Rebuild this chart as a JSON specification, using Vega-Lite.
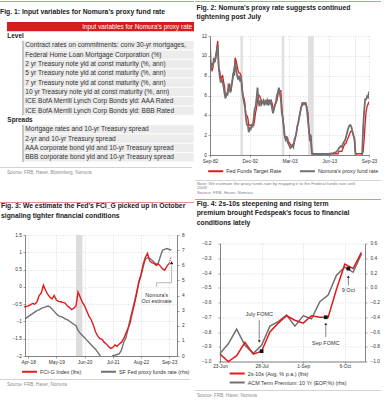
{
"$schema": "https://vega.github.io/schema/vega-lite/v6.json",
"padding": {"left": 0, "top": 1, "right": 0, "bottom": 0},
"background": "white",
"config": {
  "font": "Liberation Sans",
  "view": {"stroke": null},
  "axis": {"labelFontSize": 4.8, "labelColor": "#333333", "domainColor": "#666666", "domainWidth": 0.8, "tickColor": "#666666", "tickSize": 2, "tickWidth": 0.6, "labelPadding": 1.5, "gridColor": "#c8c8c8", "gridDash": [1, 1.5], "gridWidth": 0.6, "labelFlush": false, "labelOverlap": false},
  "title": {"fontSize": 6.8, "fontWeight": "bold", "anchor": "start", "frame": "bounds", "color": "#222222", "lineHeight": 8.6},
  "legend": {"labelFontSize": 5.4, "labelColor": "#333333", "symbolType": "M-3,0H3", "symbolSize": 25, "symbolStrokeWidth": 2, "labelOffset": 7, "padding": 0, "orient": "none"}
},
"datasets": {
  "fig1": [
    {"row": 1, "kind": "header", "label": "Input variables for Nomura's proxy rate"},
    {"row": 2, "kind": "section", "label": "Level"},
    {"row": 3, "kind": "item", "label": "Contract rates on commitments: conv 30-yr mortgages,"},
    {"row": 4, "kind": "item", "label": "Federal Home Loan Mortgage Corporation (%)"},
    {"row": 5, "kind": "item", "label": "2 yr Treasury note yld at const maturity (%, ann)"},
    {"row": 6, "kind": "item", "label": "5 yr Treasury note yld at const maturity (%, ann)"},
    {"row": 7, "kind": "item", "label": "7 yr Treasury note yld at const maturity (%, ann)"},
    {"row": 8, "kind": "item", "label": "10 yr Treasury note yld at const maturity (%, ann)"},
    {"row": 9, "kind": "item", "label": "ICE BofA Merrill Lynch Corp Bonds yld: AAA Rated"},
    {"row": 10, "kind": "item", "label": "ICE BofA Merrill Lynch Corp Bonds yld: BBB Rated"},
    {"row": 11, "kind": "section", "label": "Spreads"},
    {"row": 12, "kind": "item", "label": "Mortgage rates and 10-yr Treasury spread"},
    {"row": 13, "kind": "item", "label": "2-yr and 10-yr Treasury spread"},
    {"row": 14, "kind": "item", "label": "AAA corporate bond yld and 10-yr Treasury spread"},
    {"row": 15, "kind": "item", "label": "BBB corporate bond yld and 10-yr Treasury spread"}
  ],
  "rec2": [
    {"s": "1990-07-01", "e": "1991-03-01"},
    {"s": "2001-03-01", "e": "2001-11-01"},
    {"s": "2007-12-01", "e": "2009-06-01"},
    {"s": "2020-02-01", "e": "2020-04-01"}
  ],
  "fig2": [
    {"d": "1982-09-01", "ff": 10.0, "px": 11.3},
    {"d": "1982-12-01", "ff": 8.6, "px": 8.5},
    {"d": "1983-03-01", "ff": 8.5, "px": 9.3},
    {"d": "1983-06-01", "ff": 8.8, "px": 9.0},
    {"d": "1983-09-01", "ff": 9.4, "px": 9.8},
    {"d": "1983-12-01", "ff": 9.4, "px": 9.4},
    {"d": "1984-03-01", "ff": 9.8, "px": 10.0},
    {"d": "1984-06-01", "ff": 10.8, "px": 10.5},
    {"d": "1984-09-01", "ff": 11.5, "px": 11.1},
    {"d": "1984-12-01", "ff": 8.5, "px": 8.9},
    {"d": "1985-03-01", "ff": 8.5, "px": 8.0},
    {"d": "1985-06-01", "ff": 7.6, "px": 7.3},
    {"d": "1985-09-01", "ff": 7.9, "px": 7.7},
    {"d": "1985-12-01", "ff": 8.0, "px": 7.3},
    {"d": "1986-03-01", "ff": 7.4, "px": 6.9},
    {"d": "1986-06-01", "ff": 6.9, "px": 6.2},
    {"d": "1986-09-01", "ff": 5.9, "px": 5.7},
    {"d": "1986-12-01", "ff": 6.0, "px": 6.3},
    {"d": "1987-03-01", "ff": 6.1, "px": 6.0},
    {"d": "1987-06-01", "ff": 6.7, "px": 7.0},
    {"d": "1987-09-01", "ff": 7.2, "px": 6.8},
    {"d": "1987-12-01", "ff": 6.8, "px": 6.3},
    {"d": "1988-03-01", "ff": 6.6, "px": 7.0},
    {"d": "1988-06-01", "ff": 7.5, "px": 7.4},
    {"d": "1988-09-01", "ff": 8.1, "px": 8.3},
    {"d": "1988-12-01", "ff": 8.7, "px": 8.0},
    {"d": "1989-03-01", "ff": 9.8, "px": 9.5},
    {"d": "1989-06-01", "ff": 9.5, "px": 8.6},
    {"d": "1989-09-01", "ff": 9.0, "px": 8.0},
    {"d": "1989-12-01", "ff": 8.5, "px": 7.6},
    {"d": "1990-03-01", "ff": 8.25, "px": 8.0},
    {"d": "1990-06-01", "ff": 8.25, "px": 7.4},
    {"d": "1990-09-01", "ff": 8.0, "px": 7.9},
    {"d": "1990-12-01", "ff": 7.0, "px": 6.6},
    {"d": "1991-03-01", "ff": 6.0, "px": 5.9},
    {"d": "1991-06-01", "ff": 5.75, "px": 5.3},
    {"d": "1991-09-01", "ff": 5.25, "px": 4.9},
    {"d": "1991-12-01", "ff": 4.0, "px": 3.8},
    {"d": "1992-03-01", "ff": 4.0, "px": 3.1},
    {"d": "1992-06-01", "ff": 3.75, "px": 3.0},
    {"d": "1992-09-01", "ff": 3.0, "px": 2.3},
    {"d": "1992-12-01", "ff": 3.0, "px": 2.7},
    {"d": "1993-03-01", "ff": 3.0, "px": 2.6},
    {"d": "1993-06-01", "ff": 3.0, "px": 3.0},
    {"d": "1993-09-01", "ff": 3.0, "px": 2.9},
    {"d": "1993-12-01", "ff": 3.0, "px": 3.6},
    {"d": "1994-03-01", "ff": 3.5, "px": 4.6},
    {"d": "1994-06-01", "ff": 4.25, "px": 4.9},
    {"d": "1994-09-01", "ff": 4.75, "px": 5.7},
    {"d": "1994-12-01", "ff": 5.5, "px": 6.8},
    {"d": "1995-03-01", "ff": 6.0, "px": 5.4},
    {"d": "1995-06-01", "ff": 6.0, "px": 4.9},
    {"d": "1995-09-01", "ff": 5.75, "px": 5.5},
    {"d": "1995-12-01", "ff": 5.5, "px": 5.1},
    {"d": "1996-03-01", "ff": 5.25, "px": 5.3},
    {"d": "1996-06-01", "ff": 5.25, "px": 5.5},
    {"d": "1996-09-01", "ff": 5.25, "px": 5.0},
    {"d": "1996-12-01", "ff": 5.25, "px": 5.4},
    {"d": "1997-03-01", "ff": 5.5, "px": 5.2},
    {"d": "1997-06-01", "ff": 5.5, "px": 5.5},
    {"d": "1997-09-01", "ff": 5.5, "px": 5.0},
    {"d": "1997-12-01", "ff": 5.5, "px": 5.4},
    {"d": "1998-03-01", "ff": 5.5, "px": 5.2},
    {"d": "1998-06-01", "ff": 5.5, "px": 5.4},
    {"d": "1998-09-01", "ff": 5.25, "px": 4.7},
    {"d": "1998-12-01", "ff": 4.75, "px": 4.2},
    {"d": "1999-03-01", "ff": 4.75, "px": 4.6},
    {"d": "1999-06-01", "ff": 5.0, "px": 5.1},
    {"d": "1999-09-01", "ff": 5.25, "px": 5.3},
    {"d": "1999-12-01", "ff": 5.5, "px": 6.0},
    {"d": "2000-03-01", "ff": 6.0, "px": 6.3},
    {"d": "2000-06-01", "ff": 6.5, "px": 6.8},
    {"d": "2000-09-01", "ff": 6.5, "px": 6.2},
    {"d": "2000-12-01", "ff": 6.5, "px": 5.7},
    {"d": "2001-03-01", "ff": 5.0, "px": 4.3},
    {"d": "2001-06-01", "ff": 3.75, "px": 3.8},
    {"d": "2001-09-01", "ff": 3.0, "px": 2.8},
    {"d": "2001-12-01", "ff": 1.75, "px": 2.0},
    {"d": "2002-03-01", "ff": 1.75, "px": 1.6},
    {"d": "2002-06-01", "ff": 1.75, "px": 1.9},
    {"d": "2002-09-01", "ff": 1.75, "px": 1.3},
    {"d": "2002-12-01", "ff": 1.25, "px": 1.1},
    {"d": "2003-03-01", "ff": 1.25, "px": 0.9},
    {"d": "2003-06-01", "ff": 1.0, "px": 0.7},
    {"d": "2003-09-01", "ff": 1.0, "px": 0.8},
    {"d": "2003-12-01", "ff": 1.0, "px": 1.0},
    {"d": "2004-03-01", "ff": 1.0, "px": 0.8},
    {"d": "2004-06-01", "ff": 1.25, "px": 1.5},
    {"d": "2004-09-01", "ff": 1.75, "px": 1.8},
    {"d": "2004-12-01", "ff": 2.25, "px": 2.1},
    {"d": "2005-03-01", "ff": 2.75, "px": 2.9},
    {"d": "2005-06-01", "ff": 3.25, "px": 3.2},
    {"d": "2005-09-01", "ff": 3.75, "px": 3.8},
    {"d": "2005-12-01", "ff": 4.25, "px": 4.3},
    {"d": "2006-03-01", "ff": 4.75, "px": 4.8},
    {"d": "2006-06-01", "ff": 5.25, "px": 5.0},
    {"d": "2006-09-01", "ff": 5.25, "px": 5.2},
    {"d": "2006-12-01", "ff": 5.25, "px": 5.1},
    {"d": "2007-03-01", "ff": 5.25, "px": 5.2},
    {"d": "2007-06-01", "ff": 5.25, "px": 5.1},
    {"d": "2007-09-01", "ff": 4.75, "px": 4.5},
    {"d": "2007-12-01", "ff": 4.25, "px": 3.6},
    {"d": "2008-03-01", "ff": 2.25, "px": 2.6},
    {"d": "2008-06-01", "ff": 2.0, "px": 1.4},
    {"d": "2008-09-01", "ff": 2.0, "px": 1.9},
    {"d": "2008-12-01", "ff": 0.125, "px": 0.3},
    {"d": "2009-03-01", "ff": 0.125, "px": 0.1},
    {"d": "2010-03-01", "ff": 0.125, "px": 0.1},
    {"d": "2011-03-01", "ff": 0.125, "px": 0.1},
    {"d": "2012-03-01", "ff": 0.125, "px": 0.1},
    {"d": "2013-03-01", "ff": 0.125, "px": 0.1},
    {"d": "2014-03-01", "ff": 0.125, "px": 0.15},
    {"d": "2015-03-01", "ff": 0.125, "px": 0.3},
    {"d": "2015-09-01", "ff": 0.125, "px": 0.5},
    {"d": "2015-12-01", "ff": 0.375, "px": 0.7},
    {"d": "2016-03-01", "ff": 0.375, "px": 0.8},
    {"d": "2016-06-01", "ff": 0.375, "px": 0.9},
    {"d": "2016-09-01", "ff": 0.375, "px": 0.8},
    {"d": "2016-12-01", "ff": 0.625, "px": 1.1},
    {"d": "2017-03-01", "ff": 0.875, "px": 1.3},
    {"d": "2017-06-01", "ff": 1.125, "px": 1.4},
    {"d": "2017-09-01", "ff": 1.125, "px": 1.7},
    {"d": "2017-12-01", "ff": 1.375, "px": 2.1},
    {"d": "2018-03-01", "ff": 1.625, "px": 2.5},
    {"d": "2018-06-01", "ff": 1.875, "px": 2.8},
    {"d": "2018-09-01", "ff": 2.125, "px": 3.0},
    {"d": "2018-12-01", "ff": 2.375, "px": 3.0},
    {"d": "2019-03-01", "ff": 2.375, "px": 2.8},
    {"d": "2019-06-01", "ff": 2.375, "px": 2.3},
    {"d": "2019-09-01", "ff": 1.875, "px": 2.0},
    {"d": "2019-12-01", "ff": 1.625, "px": 1.6},
    {"d": "2020-03-01", "ff": 0.125, "px": 0.3},
    {"d": "2020-06-01", "ff": 0.125, "px": -0.5},
    {"d": "2021-06-01", "ff": 0.125, "px": -1.5},
    {"d": "2021-12-01", "ff": 0.125, "px": 0.2},
    {"d": "2022-03-01", "ff": 0.375, "px": 2.8},
    {"d": "2022-06-01", "ff": 1.625, "px": 4.4},
    {"d": "2022-09-01", "ff": 3.125, "px": 5.6},
    {"d": "2022-12-01", "ff": 4.375, "px": 5.6},
    {"d": "2023-03-01", "ff": 4.875, "px": 5.9},
    {"d": "2023-06-01", "ff": 5.125, "px": 5.8},
    {"d": "2023-09-01", "ff": 5.375, "px": 6.4}
  ],
  "rec3": [{"s": "2020-02-01", "e": "2020-05-01"}],
  "fig3": [
    {"d": "2018-02-01", "fci": -0.58, "sf": 2.4},
    {"d": "2018-03-01", "fci": -0.57, "sf": 2.5},
    {"d": "2018-04-01", "fci": -0.55, "sf": 2.6},
    {"d": "2018-05-01", "fci": -0.52, "sf": 2.7},
    {"d": "2018-06-01", "fci": -0.48, "sf": 2.8},
    {"d": "2018-07-01", "fci": -0.5, "sf": 2.9},
    {"d": "2018-08-01", "fci": -0.44, "sf": 3.0},
    {"d": "2018-09-01", "fci": -0.25, "sf": 3.05},
    {"d": "2018-10-01", "fci": -0.18, "sf": 3.15},
    {"d": "2018-11-01", "fci": 0.05, "sf": 3.2},
    {"d": "2018-12-01", "fci": -0.1, "sf": 3.25},
    {"d": "2019-01-01", "fci": -0.22, "sf": 3.3},
    {"d": "2019-02-01", "fci": -0.3, "sf": 3.25},
    {"d": "2019-03-01", "fci": -0.35, "sf": 3.1},
    {"d": "2019-04-01", "fci": -0.25, "sf": 2.95},
    {"d": "2019-05-01", "fci": -0.38, "sf": 2.8},
    {"d": "2019-06-01", "fci": -0.42, "sf": 2.65},
    {"d": "2019-07-01", "fci": -0.43, "sf": 2.6},
    {"d": "2019-08-01", "fci": -0.45, "sf": 2.55},
    {"d": "2019-09-01", "fci": -0.47, "sf": 2.45},
    {"d": "2019-10-01", "fci": -0.55, "sf": 2.4},
    {"d": "2019-11-01", "fci": -0.6, "sf": 2.3},
    {"d": "2019-12-01", "fci": -0.66, "sf": 2.2},
    {"d": "2020-01-01", "fci": -0.62, "sf": 2.1},
    {"d": "2020-02-01", "fci": -0.55, "sf": 2.0},
    {"d": "2020-03-01", "fci": -0.15, "sf": 1.7},
    {"d": "2020-04-01", "fci": -0.3, "sf": 1.5},
    {"d": "2020-05-01", "fci": -0.45, "sf": 1.35},
    {"d": "2020-06-01", "fci": -0.55, "sf": 1.2},
    {"d": "2020-07-01", "fci": -0.7, "sf": 1.05},
    {"d": "2020-08-01", "fci": -0.85, "sf": 0.9},
    {"d": "2020-09-01", "fci": -0.95, "sf": 0.75},
    {"d": "2020-10-01", "fci": -1.1, "sf": 0.6},
    {"d": "2020-11-01", "fci": -1.3, "sf": 0.45},
    {"d": "2020-12-01", "fci": -1.42, "sf": 0.25},
    {"d": "2021-01-01", "fci": -1.5, "sf": 0.05},
    {"d": "2021-02-01", "fci": -1.52, "sf": -0.3},
    {"d": "2021-03-01", "fci": -1.6, "sf": -0.6},
    {"d": "2021-04-01", "fci": -1.65, "sf": -0.7},
    {"d": "2021-05-01", "fci": -1.72, "sf": -0.5},
    {"d": "2021-06-01", "fci": -1.78, "sf": -0.2},
    {"d": "2021-07-01", "fci": -1.75, "sf": 0.02},
    {"d": "2021-08-01", "fci": -1.68, "sf": 0.05},
    {"d": "2021-09-01", "fci": -1.72, "sf": 0.1},
    {"d": "2021-10-01", "fci": -1.65, "sf": 0.15},
    {"d": "2021-11-01", "fci": -1.6, "sf": 0.4},
    {"d": "2021-12-01", "fci": -1.5, "sf": 0.9},
    {"d": "2022-01-01", "fci": -1.35, "sf": 1.2},
    {"d": "2022-02-01", "fci": -1.2, "sf": 1.8},
    {"d": "2022-03-01", "fci": -1.05, "sf": 2.4},
    {"d": "2022-04-01", "fci": -0.75, "sf": 3.0},
    {"d": "2022-05-01", "fci": -0.5, "sf": 3.6},
    {"d": "2022-06-01", "fci": -0.2, "sf": 4.2},
    {"d": "2022-07-01", "fci": 0.15, "sf": 4.8},
    {"d": "2022-08-01", "fci": 0.35, "sf": 5.3},
    {"d": "2022-09-01", "fci": 0.65, "sf": 5.9},
    {"d": "2022-10-01", "fci": 0.85, "sf": 6.4},
    {"d": "2022-11-01", "fci": 0.97, "sf": 6.5},
    {"d": "2022-12-01", "fci": 0.75, "sf": 6.45},
    {"d": "2023-01-01", "fci": 0.7, "sf": 6.35},
    {"d": "2023-02-01", "fci": 0.68, "sf": 6.2},
    {"d": "2023-03-01", "fci": 0.62, "sf": 6.05},
    {"d": "2023-04-01", "fci": 0.66, "sf": 6.15},
    {"d": "2023-05-01", "fci": 0.6, "sf": 6.6},
    {"d": "2023-06-01", "fci": 0.52, "sf": 7.0},
    {"d": "2023-07-01", "fci": 0.48, "sf": 7.05},
    {"d": "2023-08-01", "fci": 0.6, "sf": 7.1},
    {"d": "2023-09-01", "fci": 0.68, "sf": 7.05},
    {"d": "2023-10-01", "fci": null, "sf": 6.98}
  ],
  "est3": [{"d": "2023-09-01", "v": 0.68}, {"d": "2023-10-01", "v": 0.88}],
  "lead3": [
    {"d": "2023-10-05", "d2": "2023-10-05", "v": 0.62, "v2": 0.12},
    {"d": "2023-03-10", "d2": "2023-10-05", "v": 0.12, "v2": 0.12},
    {"d": "2023-03-10", "d2": "2023-03-10", "v": 0.12, "v2": 0.0}
  ],
  "mark3": [{"d": "2023-10-05", "v": 0.7}],
  "text3": [{"d": "2023-03-10", "v": -0.23, "t": "Nomura's\nOct estimate"}],
  "fig4": [
    {"d": "2023-06-23", "s": -0.95, "tp": -0.89},
    {"d": "2023-06-30", "s": -1.0, "tp": -0.76},
    {"d": "2023-07-07", "s": -0.96, "tp": -0.56},
    {"d": "2023-07-14", "s": -0.87, "tp": -0.78},
    {"d": "2023-07-21", "s": -0.95, "tp": -0.89},
    {"d": "2023-07-28", "s": -0.93, "tp": -0.78},
    {"d": "2023-08-04", "s": -0.8, "tp": -0.52},
    {"d": "2023-08-11", "s": -0.74, "tp": -0.46},
    {"d": "2023-08-18", "s": -0.69, "tp": -0.37},
    {"d": "2023-08-25", "s": -0.72, "tp": -0.52},
    {"d": "2023-09-01", "s": -0.74, "tp": -0.38},
    {"d": "2023-09-08", "s": -0.69, "tp": -0.42},
    {"d": "2023-09-15", "s": -0.7, "tp": -0.19},
    {"d": "2023-09-22", "s": -0.7, "tp": -0.1},
    {"d": "2023-09-29", "s": -0.51, "tp": 0.17},
    {"d": "2023-10-06", "s": -0.34, "tp": 0.28},
    {"d": "2023-10-13", "s": -0.37, "tp": 0.21},
    {"d": "2023-10-20", "s": -0.26, "tp": 0.46}
  ],
  "sq4": [{"d": "2023-07-28", "v": -0.93}, {"d": "2023-09-20", "v": -0.7}, {"d": "2023-10-09", "v": -0.37}],
  "arrow4": [{"d": "2023-07-26", "v": -0.72, "v2": -0.86}, {"d": "2023-09-20", "v": -0.835, "v2": -0.75}, {"d": "2023-10-09", "v": -0.485, "v2": -0.43}],
  "down4": [{"d": "2023-07-26", "v": -0.865}],
  "up4": [{"d": "2023-09-20", "v": -0.745}, {"d": "2023-10-09", "v": -0.425}],
  "text4": [{"d": "2023-07-26", "v": -0.68, "t": "July FOMC"}, {"d": "2023-09-20", "v": -0.873, "t": "Sep FOMC"}, {"d": "2023-10-09", "v": -0.517, "t": "9 Oct"}]
},
"align": "none",
"spacing": 0,
"resolve": {"scale": {"color": "independent"}, "legend": {"color": "independent"}},
"concat": [
  {
    "columns": 1, "align": "none", "spacing": 27,
    "resolve": {"scale": {"color": "independent"}, "legend": {"color": "independent"}},
    "concat": [
      {
        "columns": 1, "align": "none", "spacing": 4,
        "concat": [
          {
            "columns": 1, "align": "none", "spacing": 6,
            "concat": [
              {"width": 194, "height": 1, "data": {"values": []}, "mark": "rule", "encoding": {}, "view": {"fill": "#e58f8f", "stroke": null}},
              {
                "width": 194, "height": 140,
                "title": {"text": "Fig. 1: Input variables for Nomura's proxy fund rate", "offset": 6.5},
                "data": {"name": "fig1"},
                "encoding": {"y": {"field": "row", "type": "ordinal", "axis": null, "scale": {"paddingInner": 0, "paddingOuter": 0}}},
                "layer": [
                  {"transform": [{"filter": "datum.kind == 'header'"}], "mark": {"type": "rect", "color": "#d51d1d"}, "encoding": {"x": {"datum": 3.6, "type": "quantitative", "scale": {"domain": [0, 100], "nice": false, "zero": false}, "axis": null}, "x2": {"datum": 100}}},
                  {"transform": [{"filter": "datum.kind == 'item'"}], "mark": {"type": "rect", "color": "#ececec", "stroke": "#ffffff", "strokeWidth": 0.8}, "encoding": {"x": {"datum": 12, "type": "quantitative"}, "x2": {"datum": 100}}},
                  {"transform": [{"filter": "datum.kind == 'item'"}], "mark": {"type": "rect", "color": "#8c8c8c"}, "encoding": {"x": {"datum": 11.6, "type": "quantitative"}, "x2": {"datum": 12.1}}},
                  {"transform": [{"filter": "datum.kind == 'header'"}], "mark": {"type": "text", "align": "right", "color": "#ffffff", "fontSize": 6.4}, "encoding": {"x": {"datum": 99, "type": "quantitative"}, "text": {"field": "label"}}},
                  {"transform": [{"filter": "datum.kind == 'section'"}], "mark": {"type": "text", "align": "left", "color": "#222222", "fontSize": 6.4, "fontWeight": "bold"}, "encoding": {"x": {"datum": 3.8, "type": "quantitative"}, "text": {"field": "label"}}},
                  {"transform": [{"filter": "datum.kind == 'item'"}], "mark": {"type": "text", "align": "left", "color": "#333333", "fontSize": 6.6}, "encoding": {"x": {"datum": 13, "type": "quantitative"}, "text": {"field": "label"}}}
                ]
              }
            ]
          },
          {"width": 192, "height": 0.8, "data": {"values": []}, "mark": "rule", "encoding": {}, "view": {"fill": "#c4c4c4", "stroke": null}, "title": {"text": "Source: FRB, Haver, Bloomberg, Nomura", "orient": "bottom", "fontSize": 4.6, "fontWeight": "normal", "color": "#8c8c8c", "offset": 2.2, "dx": 7}}
        ]
      },
      {
        "columns": 1, "align": "none", "spacing": 3,
        "resolve": {"scale": {"color": "independent"}, "legend": {"color": "independent"}},
        "concat": [
          {
            "columns": 1, "align": "none", "spacing": 0,
            "resolve": {"scale": {"color": "independent"}, "legend": {"color": "independent"}},
            "concat": [
              {"width": 194, "height": 1, "data": {"values": []}, "mark": "rule", "encoding": {}, "view": {"fill": "#e58f8f", "stroke": null}},
              {
                "spacing": 0,
                "resolve": {"scale": {"color": "independent"}, "legend": {"color": "independent"}},
                "concat": [
                  {"width": 1, "height": 1, "data": {"values": []}, "mark": "rule", "encoding": {}},
                  {
                    "width": 152, "height": 121,
                    "title": {"text": ["Fig. 3: We estimate the Fed's FCI_G picked up in October", "signaling tighter financial conditions"], "offset": 12.5, "lineHeight": 9.3},
                    "resolve": {"scale": {"y": "independent"}, "axis": {"x": "independent", "y": "independent"}},
                    "layer": [
                      {"data": {"name": "rec3"}, "mark": {"type": "rect", "color": "#dcdcdc"},
                       "encoding": {
                         "x": {"field": "s", "type": "temporal", "axis": null},
                         "x2": {"field": "e"}}},
                      {"data": {"name": "fig3"}, "mark": {"type": "line", "strokeWidth": 1.4, "clip": true},
                       "encoding": {
                         "x": {"field": "d", "type": "temporal", "scale": {"domain": [{"year": 2018, "month": 2, "date": 15}, {"year": 2023, "month": 12, "date": 20}]},
                               "axis": {"orient": "bottom", "values": [{"year": 2018, "month": 4, "date": 1}, {"year": 2019, "month": 5, "date": 1}, {"year": 2020, "month": 6, "date": 1}, {"year": 2021, "month": 7, "date": 1}, {"year": 2022, "month": 8, "date": 1}, {"year": 2023, "month": 9, "date": 1}], "format": "%b-%y", "grid": true, "title": null, "labelAngle": 0, "labelOverlap": false, "labelFlush": false}},
                         "y": {"field": "sf", "type": "quantitative", "scale": {"domain": [0, 8], "nice": false}, "axis": {"orient": "right", "values": [0, 1, 2, 3, 4, 5, 6, 7, 8], "grid": false, "title": null, "labelPadding": 2.5, "labelOverlap": false}},
                         "color": {"datum": "SF Fed proxy funds rate (rhs)"}}},
                      {
                       "resolve": {"axis": {"x": "independent", "y": "independent"}},
                       "layer": [
                        {"data": {"name": "fig3"}, "mark": {"type": "line", "strokeWidth": 1.4},
                         "encoding": {
                           "x": {"field": "d", "type": "temporal", "axis": null},
                           "y": {"field": "fci", "type": "quantitative", "scale": {"domain": [-2, 1.5], "nice": false}, "axis": {"orient": "left", "values": [-2, -1.5, -1, -0.5, 0, 0.5, 1, 1.5], "format": "~g", "grid": true, "title": null, "minExtent": 24, "maxExtent": 24, "labelOverlap": false}},
                           "color": {"datum": "FCI-G Index (lhs)", "scale": {"domain": ["FCI-G Index (lhs)", "SF Fed proxy funds rate (rhs)"], "range": ["#e31a1c", "#707070"]}, "legend": {"direction": "horizontal", "legendX": 1, "legendY": 133, "columnPadding": 15, "title": null}}}},
                        {"data": {"name": "est3"}, "mark": {"type": "line", "color": "#e31a1c", "strokeWidth": 1, "strokeDash": [1.2, 1.2]},
                         "encoding": {"x": {"field": "d", "type": "temporal", "axis": null}, "y": {"field": "v", "type": "quantitative", "axis": null}}},
                        {"data": {"name": "lead3"}, "mark": {"type": "rule", "color": "#888888", "strokeWidth": 0.6},
                         "encoding": {"x": {"field": "d", "type": "temporal", "axis": null}, "x2": {"field": "d2"}, "y": {"field": "v", "type": "quantitative", "axis": null}, "y2": {"field": "v2"}}},
                        {"data": {"name": "mark3"}, "mark": {"type": "point", "shape": "triangle-up", "filled": true, "color": "#111111", "size": 12, "opacity": 1},
                         "encoding": {"x": {"field": "d", "type": "temporal", "axis": null}, "y": {"field": "v", "type": "quantitative", "axis": null}}},
                        {"data": {"name": "text3"}, "mark": {"type": "text", "fontSize": 5.4, "color": "#333333", "lineBreak": "\n", "lineHeight": 6.7},
                         "encoding": {"x": {"field": "d", "type": "temporal", "axis": null}, "y": {"field": "v", "type": "quantitative", "axis": null}, "text": {"field": "t"}}}
                      ]}
                    ]
                  }
                ]
              }
            ]
          },
          {"width": 190, "height": 0.8, "data": {"values": []}, "mark": "rule", "encoding": {}, "view": {"fill": "#c4c4c4", "stroke": null}, "title": {"text": "Source: FRB, Haver, Nomura", "orient": "bottom", "fontSize": 4.6, "fontWeight": "normal", "color": "#8c8c8c", "offset": 2.6, "dx": 7}}
        ]
      }
    ]
  },
  {
    "columns": 1, "align": "none", "spacing": 3,
    "resolve": {"scale": {"color": "independent"}, "legend": {"color": "independent"}},
    "concat": [
      {
        "columns": 1, "align": "none", "spacing": 4.2,
        "resolve": {"scale": {"color": "independent"}, "legend": {"color": "independent"}},
        "concat": [
          {
            "columns": 1, "align": "none", "spacing": 3,
            "resolve": {"scale": {"color": "independent"}, "legend": {"color": "independent"}},
            "concat": [
              {"width": 186, "height": 1, "data": {"values": []}, "mark": "rule", "encoding": {}, "view": {"fill": "#e58f8f", "stroke": null}},
              {
                "spacing": 0,
                "resolve": {"scale": {"color": "independent"}, "legend": {"color": "independent"}},
                "concat": [
                  {"width": 1, "height": 1, "data": {"values": []}, "mark": "rule", "encoding": {}},
                  {
                    "width": 159, "height": 119,
                    "title": {"text": ["Fig. 2: Nomura's proxy rate suggests continued", "tightening post July"], "offset": 12.5, "lineHeight": 8.4},
                    "resolve": {"axis": {"x": "independent"}},
                    "layer": [
                      {"data": {"name": "rec2"}, "mark": {"type": "rect", "color": "#e0e0e0"},
                       "encoding": {
                         "x": {"field": "s", "type": "temporal", "axis": null},
                         "x2": {"field": "e"}}},
                      {"data": {"name": "fig2"}, "transform": [{"fold": ["ff", "px"]}], "mark": {"type": "line", "clip": true},
                       "encoding": {
                         "x": {"field": "d", "type": "temporal", "scale": {"domain": [{"year": 1982, "month": 9, "date": 1}, {"year": 2023, "month": 9, "date": 1}]},
                               "axis": {"orient": "bottom", "values": [{"year": 1982, "month": 9, "date": 1}, {"year": 1992, "month": 12, "date": 1}, {"year": 2003, "month": 3, "date": 1}, {"year": 2013, "month": 6, "date": 1}, {"year": 2023, "month": 9, "date": 1}], "format": "%b-%y", "grid": true, "title": null, "labelAngle": 0, "labelOverlap": false, "labelFlush": false}},
                         "y": {"field": "value", "type": "quantitative", "scale": {"domain": [0, 12], "nice": false}, "axis": {"orient": "left", "values": [0, 2, 4, 6, 8, 10, 12], "grid": true, "title": null, "minExtent": 13.5, "maxExtent": 13.5, "labelOverlap": false}},
                         "color": {"field": "key", "type": "nominal", "scale": {"domain": ["ff", "px"], "range": ["#e31a1c", "#707070"]}, "legend": {"direction": "horizontal", "legendX": 2.2, "legendY": 131.5, "columnPadding": 13.7, "title": null, "labelExpr": "datum.label == 'ff' ? 'Fed Funds Target Rate' : \"Nomura's proxy fund rate\""}},
                         "strokeWidth": {"field": "key", "type": "nominal", "scale": {"domain": ["ff", "px"], "range": [1.3, 1.8]}, "legend": null}}}
                    ]
                  }
                ]
              }
            ]
          },
          {"width": 186, "height": 0.8, "data": {"values": []}, "mark": "rule", "encoding": {}, "view": {"fill": "#c4c4c4", "stroke": null}, "title": {"text": ["Note: We estimate the proxy funds rate by mapping it to the Federal funds rate until", "2008.", "Source: FRB, Haver, Nomura"], "orient": "bottom", "fontSize": 4.3, "fontWeight": "normal", "color": "#808080", "offset": 0.5, "lineHeight": 4.85, "dx": 2}}
        ]
      },
      {
        "columns": 1, "align": "none", "spacing": 3.2,
        "resolve": {"scale": {"color": "independent"}, "legend": {"color": "independent"}},
        "concat": [
          {
            "columns": 1, "align": "none", "spacing": 0.5,
            "resolve": {"scale": {"color": "independent"}, "legend": {"color": "independent"}},
            "concat": [
              {"width": 186, "height": 1, "data": {"values": []}, "mark": "rule", "encoding": {}, "view": {"fill": "#e58f8f", "stroke": null}},
              {
                "spacing": 0,
                "resolve": {"scale": {"color": "independent"}, "legend": {"color": "independent"}},
                "concat": [
                  {"width": 1, "height": 1, "data": {"values": []}, "mark": "rule", "encoding": {}},
                  {
                    "width": 145, "height": 118,
                    "title": {"text": ["Fig. 4: 2s-10s steepening and rising term", "premium brought Fedspeak's focus to financial", "conditions lately"], "offset": 14, "lineHeight": 9.5},
                    "resolve": {"scale": {"y": "independent"}, "axis": {"x": "independent", "y": "independent"}},
                    "layer": [
                      {"data": {"name": "fig4"}, "mark": {"type": "line", "strokeWidth": 1.5},
                       "encoding": {
                         "x": {"field": "d", "type": "temporal", "scale": {"domain": [{"year": 2023, "month": 6, "date": 23}, {"year": 2023, "month": 10, "date": 23}]},
                               "axis": {"orient": "bottom", "values": [{"year": 2023, "month": 6, "date": 23}, {"year": 2023, "month": 7, "date": 28}, {"year": 2023, "month": 9, "date": 1}, {"year": 2023, "month": 10, "date": 6}], "format": "%-d-%b", "grid": true, "title": null, "labelAngle": 0, "labelPadding": 0.5, "tickSize": 1.5, "labelOverlap": false, "labelFlush": false}},
                         "y": {"field": "tp", "type": "quantitative", "scale": {"domain": [-1, 0.6], "nice": false}, "axis": {"orient": "right", "values": [-1, -0.8, -0.6, -0.4, -0.2, 0, 0.2, 0.4, 0.6], "format": ".1f", "grid": false, "title": null, "labelPadding": 3, "labelOverlap": false}},
                         "color": {"datum": "ACM Term Premium: 10 Yr (EOP,%) (rhs)"}}},
                      {
                       "resolve": {"axis": {"x": "independent", "y": "independent"}},
                       "layer": [
                        {"data": {"name": "fig4"}, "mark": {"type": "line", "strokeWidth": 1.5},
                         "encoding": {
                           "x": {"field": "d", "type": "temporal", "axis": null},
                           "y": {"field": "s", "type": "quantitative", "scale": {"domain": [-1, -0.2], "nice": false}, "axis": {"orient": "left", "values": [-1, -0.9, -0.8, -0.7, -0.6, -0.5, -0.4, -0.3, -0.2], "format": ".1f", "grid": true, "title": null, "labelPadding": 7, "minExtent": 23.3, "maxExtent": 23.3, "labelOverlap": false}},
                           "color": {"datum": "2s-10s (Avg, % p.a.) (lhs)", "scale": {"domain": ["2s-10s (Avg, % p.a.) (lhs)", "ACM Term Premium: 10 Yr (EOP,%) (rhs)"], "range": ["#e31a1c", "#707070"]}, "legend": {"direction": "vertical", "legendX": 13.7, "legendY": 126.5, "rowPadding": 0, "title": null, "labelLimit": 200}}}},
                        {"data": {"name": "arrow4"}, "mark": {"type": "rule", "color": "#333333", "strokeWidth": 0.6},
                         "encoding": {"x": {"field": "d", "type": "temporal", "axis": null}, "y": {"field": "v", "type": "quantitative", "axis": null}, "y2": {"field": "v2"}}},
                        {"data": {"name": "down4"}, "mark": {"type": "point", "shape": "triangle-down", "filled": true, "color": "#222222", "size": 8, "opacity": 1},
                         "encoding": {"x": {"field": "d", "type": "temporal", "axis": null}, "y": {"field": "v", "type": "quantitative", "axis": null}}},
                        {"data": {"name": "up4"}, "mark": {"type": "point", "shape": "triangle-up", "filled": true, "color": "#222222", "size": 8, "opacity": 1},
                         "encoding": {"x": {"field": "d", "type": "temporal", "axis": null}, "y": {"field": "v", "type": "quantitative", "axis": null}}},
                        {"data": {"name": "sq4"}, "mark": {"type": "square", "color": "#111111", "size": 14, "opacity": 1},
                         "encoding": {"x": {"field": "d", "type": "temporal", "axis": null}, "y": {"field": "v", "type": "quantitative", "axis": null}}},
                        {"data": {"name": "text4"}, "mark": {"type": "text", "fontSize": 5.5, "color": "#333333"},
                         "encoding": {"x": {"field": "d", "type": "temporal", "axis": null}, "y": {"field": "v", "type": "quantitative", "axis": null}, "text": {"field": "t"}}}
                      ]}
                    ]
                  }
                ]
              }
            ]
          },
          {"width": 186, "height": 0.8, "data": {"values": []}, "mark": "rule", "encoding": {}, "view": {"fill": "#c4c4c4", "stroke": null}, "title": {"text": "Source: FRB, Haver, Nomura", "orient": "bottom", "fontSize": 4.6, "fontWeight": "normal", "color": "#8c8c8c", "offset": 1.6, "dx": 2}}
        ]
      }
    ]
  }
]
}
